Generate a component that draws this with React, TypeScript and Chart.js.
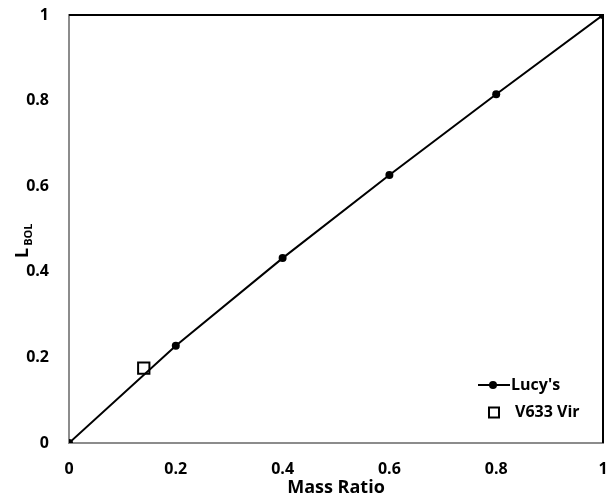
import React, { useEffect, useRef } from "react";
import { Chart, registerables } from "chart.js";

Chart.register(...registerables);

const seriesNames = ["Lucy's", "V633 Vir"];
const lucyX = [0, 0.2, 0.4, 0.6, 0.8, 1];
const lucyY = [0, 0.227, 0.432, 0.626, 0.815, 1];
const virX = [0.14];
const virY = [0.175];
const axisMin = 0;
const axisMax = 1;
const tickStep = 0.2;
const xTitle = "Mass Ratio";
const yTitleMain = "L";
const yTitleSub = "BOL";

const FONT = "'Open Sans', Lato, sans-serif";

const framePlugin = {
  id: "frame",
  beforeDatasetsDraw(chart: any) {
    const { ctx, chartArea } = chart;
    ctx.save();
    ctx.strokeStyle = "#000";
    ctx.lineWidth = 2;
    ctx.beginPath();
    ctx.moveTo(chartArea.left, chartArea.top);
    ctx.lineTo(chartArea.right, chartArea.top);
    ctx.lineTo(chartArea.right, chartArea.bottom);
    ctx.stroke();
    ctx.restore();
  },
};

const yTitlePlugin = {
  id: "yTitle",
  afterDraw(chart: any) {
    const { ctx, chartArea } = chart;
    ctx.save();
    ctx.translate(chartArea.left - 41, chartArea.bottom - 185);
    ctx.rotate(-Math.PI / 2);
    ctx.fillStyle = "#000";
    ctx.textBaseline = "alphabetic";
    ctx.textAlign = "left";
    ctx.font = `bold 18px ${FONT}`;
    ctx.fillText(yTitleMain, 0, 0);
    const wL = ctx.measureText(yTitleMain).width;
    ctx.font = `bold 11px ${FONT}`;
    ctx.fillText(yTitleSub, wL + 2, 4);
    ctx.restore();
  },
};

const legendPlugin = {
  id: "customLegend",
  afterDraw(chart: any) {
    const { ctx, chartArea } = chart;
    const x0 = chartArea.right - 125;
    const x1 = chartArea.right - 93;
    const y1 = chartArea.bottom - 58;
    const y2 = chartArea.bottom - 30.5;
    const cx = chartArea.right - 110;
    ctx.save();
    ctx.strokeStyle = "#000";
    ctx.lineWidth = 2;
    ctx.beginPath();
    ctx.moveTo(x0, y1);
    ctx.lineTo(x1, y1);
    ctx.stroke();
    ctx.fillStyle = "#000";
    ctx.beginPath();
    ctx.arc(cx, y1, 4, 0, Math.PI * 2);
    ctx.fill();
    ctx.fillStyle = "#fff";
    ctx.fillRect(cx + 1 - 5, y2 - 5, 10, 10);
    ctx.strokeRect(cx + 1 - 5, y2 - 5, 10, 10);
    ctx.fillStyle = "#000";
    ctx.font = `bold 16px ${FONT}`;
    ctx.textBaseline = "middle";
    ctx.textAlign = "left";
    ctx.fillText(seriesNames[0], x1 + 1, y1);
    ctx.fillText(seriesNames[1], x1 + 5, y2);
    ctx.restore();
  },
};

const fmt = (v: any) => String(Number(Number(v).toFixed(1)));

export default function App() {
  const ref = useRef<HTMLCanvasElement | null>(null);
  useEffect(() => {
    if (!ref.current) return;
    const chart = new Chart(ref.current, {
      type: "scatter",
      data: {
        datasets: [
          {
            label: seriesNames[0],
            data: lucyX.map((x, i) => ({ x, y: lucyY[i] })),
            showLine: true,
            borderColor: "#000",
            backgroundColor: "#000",
            borderWidth: 2,
            pointRadius: 4,
            pointBackgroundColor: "#000",
            pointBorderWidth: 0,
          },
          {
            label: seriesNames[1],
            data: virX.map((x, i) => ({ x, y: virY[i] })),
            showLine: false,
            borderColor: "#000",
            backgroundColor: "#fff",
            pointStyle: "rect",
            pointRadius: 8,
            pointBorderWidth: 2,
            pointBackgroundColor: "#fff",
            pointBorderColor: "#000",
          },
        ],
      },
      options: {
        animation: false,
        responsive: true,
        maintainAspectRatio: false,
        layout: { padding: { top: 15, right: 11, left: 0, bottom: 0 } },
        plugins: {
          legend: { display: false },
          tooltip: { enabled: false },
        },
        scales: {
          x: {
            type: "linear",
            min: axisMin,
            max: axisMax,
            grid: { display: false },
            border: { display: true, color: "#8c8c8c", width: 2 },
            ticks: {
              stepSize: tickStep,
              color: "#000",
              padding: 9,
              font: { family: FONT, size: 16, weight: "bold" },
              callback: fmt,
              maxRotation: 0,
            },
            title: {
              display: true,
              text: xTitle,
              color: "#000",
              font: { family: FONT, size: 18, weight: "bold" },
              padding: { top: 0, bottom: 3 },
            },
            afterFit: (s: any) => {
              s.height = 59;
              s.paddingLeft = 0;
              s.paddingRight = 0;
            },
          },
          y: {
            type: "linear",
            min: axisMin,
            max: axisMax,
            grid: { display: false },
            border: { display: true, color: "#8c8c8c", width: 2 },
            ticks: {
              stepSize: tickStep,
              color: "#000",
              padding: 12,
              font: { family: FONT, size: 16, weight: "bold" },
              callback: fmt,
            },
            afterFit: (s: any) => {
              s.width = 69;
              s.paddingTop = 0;
              s.paddingBottom = 0;
            },
          },
        },
      },
      plugins: [framePlugin, yTitlePlugin, legendPlugin],
    } as any);
    return () => chart.destroy();
  }, []);
  return (
    <div style={{ position: "absolute", left: 0, top: 0, width: 614, height: 502, background: "#fff" }}>
      <canvas ref={ref} />
    </div>
  );
}
